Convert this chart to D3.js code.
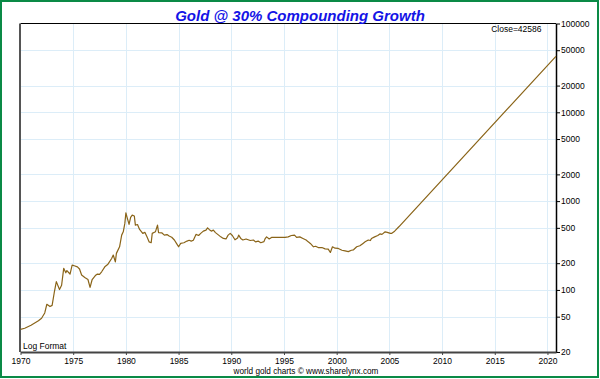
<!DOCTYPE html>
<html>
<head>
<meta charset="utf-8">
<script src="https://cdn.jsdelivr.net/npm/d3@7"></script>
<style>
  html, body { margin: 0; padding: 0; background: #fff; }
  svg { display: block; font-family: "Liberation Sans", Arial, sans-serif; }
</style>
</head>
<body>
<svg id="chart" width="600" height="379"></svg>
<script>
// ---- data ----
const years = [
  1970.0, 1970.4, 1971.0, 1971.7, 1972.0, 1972.3, 1972.5, 1972.8, 1973.0, 1973.2,
  1973.4, 1973.7, 1973.9, 1974.1, 1974.3, 1974.4, 1974.7, 1974.9, 1975.1, 1975.4,
  1975.6, 1975.8, 1976.1, 1976.4, 1976.6, 1976.8, 1977.1, 1977.3, 1977.5, 1977.7,
  1978.0, 1978.3, 1978.65, 1978.8, 1979.0, 1979.1, 1979.4, 1979.6, 1979.75, 1979.9,
  1980.0, 1980.1, 1980.3, 1980.45, 1980.6, 1980.8, 1980.9, 1981.1, 1981.3, 1981.6,
  1981.8, 1982.0, 1982.2, 1982.4, 1982.5, 1982.8, 1983.0, 1983.1, 1983.4, 1983.65,
  1983.9, 1984.1, 1984.35, 1984.6, 1984.8, 1985.0, 1985.2, 1985.5, 1985.8, 1986.0,
  1986.2, 1986.4, 1986.65, 1986.9, 1987.1, 1987.35, 1987.6, 1987.75, 1987.9, 1988.1,
  1988.3, 1988.5, 1988.8, 1989.0, 1989.25, 1989.5, 1989.7, 1989.9, 1990.1, 1990.35,
  1990.6, 1990.7, 1990.9, 1991.1, 1991.4, 1991.8, 1992.1, 1992.3, 1992.55, 1992.8,
  1993.1, 1993.2, 1993.35, 1993.6, 1993.85, 1994.2, 1994.5, 1994.8, 1995.1, 1995.4,
  1995.7, 1996.0, 1996.2, 1996.5, 1996.8, 1997.1, 1997.3, 1997.5, 1997.8, 1998.0,
  1998.25, 1998.6, 1998.9, 1999.2, 1999.4, 1999.6, 1999.85, 2000.15, 2000.5, 2000.8,
  2001.1, 2001.4, 2001.6, 2001.9, 2002.2, 2002.5, 2002.7, 2003.0, 2003.2, 2003.3,
  2003.6, 2003.9, 2004.1, 2004.3, 2004.6, 2004.8, 2005.1, 2005.2, 2005.5, 2005.9,
  2020.8
];
const prices = [
  36, 37, 40, 45, 48, 55, 69, 65, 67, 93,
  124, 101, 113, 175, 156, 165, 151, 190, 187, 182,
  172, 147, 138, 131, 107, 131, 145, 151, 150, 160,
  182, 195, 226, 247, 207, 258, 306, 414, 451, 561,
  738, 665, 546, 655, 695, 680, 537, 545, 480, 433,
  445, 396, 348, 340, 433, 451, 537, 442, 440, 414,
  420, 404, 392, 365, 334, 306, 334, 340, 355, 362,
  355, 362, 422, 410, 433, 459, 471, 500, 480, 459,
  471, 442, 414, 396, 380, 375, 414, 433, 410, 367,
  385, 414, 380, 365, 375, 360, 365, 348, 355, 340,
  350, 375, 396, 375, 392, 390, 392, 390, 390, 396,
  410, 414, 390, 396, 380, 365, 348, 334, 306, 310,
  300, 300, 290, 288, 264, 306, 295, 293, 280, 275,
  270, 280, 283, 306, 314, 334, 348, 365, 360, 380,
  396, 410, 427, 422, 451, 445, 433, 433, 459, 514,
  42586
];
const xTicks = [1970, 1975, 1980, 1985, 1990, 1995, 2000, 2005, 2010, 2015, 2020];
const yTicks = [20, 50, 100, 200, 500, 1000, 2000, 5000, 10000, 20000, 50000, 100000];
const titleText = "Gold @ 30% Compounding Growth";
const closeText = "Close=42586";
const formatText = "Log Format";
const creditText = "world gold charts \u00A9 www.sharelynx.com";

// ---- layout ----
const L = 20.5, R = 556, T = 23.5, B = 352;
const svg = d3.select("#chart");

const x = d3.scaleLinear().domain([1970, 2020.81]).range([L, R]);
const y = d3.scaleLog().domain([20, 100000]).range([B, T]);

// outer green frame
svg.append("rect").attr("x", 1).attr("y", 1).attr("width", 597).attr("height", 376)
  .attr("fill", "none").attr("stroke", "#0a8a46").attr("stroke-width", 2);

// grid
const grid = svg.append("g").attr("stroke", "#dcedf8").attr("stroke-width", 1);
grid.selectAll("line.v").data(xTicks.filter(d => d > 1970)).join("line")
  .attr("x1", d => Math.round(x(d)) + 0.5).attr("x2", d => Math.round(x(d)) + 0.5)
  .attr("y1", T).attr("y2", B);
grid.selectAll("line.h").data(yTicks.filter(d => d > 20 && d < 100000)).join("line")
  .attr("class", "h")
  .attr("y1", d => Math.round(y(d)) + 0.5).attr("y2", d => Math.round(y(d)) + 0.5)
  .attr("x1", L).attr("x2", R);

// right axis
const yAxis = d3.axisRight(y).tickValues(yTicks).tickFormat(d3.format("d")).tickSize(4).tickSizeOuter(0);
const gy = svg.append("g").attr("transform", `translate(${R},0)`).call(yAxis);
gy.select(".domain").attr("stroke", "#000").attr("stroke-width", 1.5);
gy.selectAll(".tick line").attr("stroke", "#000");
gy.selectAll(".tick text").attr("x", 5).attr("font-size", "8.5px")
  .attr("font-family", "Liberation Sans, Arial, sans-serif").attr("fill", "#000");

// bottom axis
const xAxis = d3.axisBottom(x).tickValues(xTicks).tickFormat(d3.format("d")).tickSize(3).tickSizeOuter(0);
const gx = svg.append("g").attr("transform", `translate(0,${B})`).call(xAxis);
gx.select(".domain").attr("stroke", "#444").attr("stroke-width", 2);
gx.selectAll(".tick line").attr("stroke", "#444");
gx.selectAll(".tick text").attr("y", 6).attr("font-size", "8.5px")
  .attr("font-family", "Liberation Sans, Arial, sans-serif").attr("fill", "#000");

// top & left frame
svg.append("line").attr("x1", L).attr("x2", R).attr("y1", T).attr("y2", T)
  .attr("stroke", "#000").attr("stroke-width", 1.2);
svg.append("line").attr("x1", L - 0.5).attr("x2", L - 0.5).attr("y1", T).attr("y2", B)
  .attr("stroke", "#555").attr("stroke-width", 2);

// price line
const line = d3.line().x((d, i) => x(years[i])).y(d => y(d));
svg.append("path").datum(prices)
  .attr("d", line)
  .attr("fill", "none")
  .attr("stroke", "#8a6418")
  .attr("stroke-width", 1.2)
  .attr("stroke-linejoin", "round");

// texts
svg.append("text").attr("x", 300).attr("y", 20.5).attr("text-anchor", "middle")
  .attr("font-size", "15px").attr("font-weight", "bold").attr("font-style", "italic")
  .attr("fill", "#1414e6").text(titleText);
svg.append("text").attr("x", 541.5).attr("y", 31.5).attr("text-anchor", "end")
  .attr("font-size", "8.5px").attr("fill", "#000").text(closeText);
svg.append("text").attr("x", 23).attr("y", 348.5)
  .attr("font-size", "8.5px").attr("fill", "#000").text(formatText);
svg.append("text").attr("x", 306).attr("y", 373.5).attr("text-anchor", "middle")
  .attr("font-size", "8.2px").attr("fill", "#000").text(creditText);
</script>
</body>
</html>
